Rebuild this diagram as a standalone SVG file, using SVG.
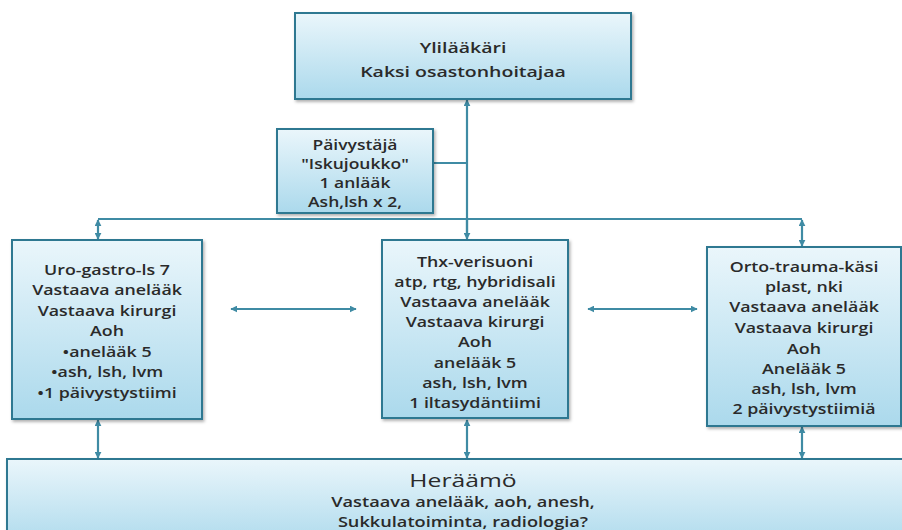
<svg xmlns="http://www.w3.org/2000/svg" width="902" height="530" viewBox="0 0 902 530">
  <defs>
    <linearGradient id="boxFill" x1="0" y1="0" x2="0" y2="1">
      <stop offset="0" stop-color="#eaf6fb"/>
      <stop offset="1" stop-color="#abd9ec"/>
    </linearGradient>
    <filter id="shadow" x="-5%" y="-5%" width="115%" height="120%">
      <feDropShadow dx="1.5" dy="2" stdDeviation="1.5" flood-color="#000" flood-opacity="0.3"/>
    </filter>
    <marker id="head" viewBox="0 0 10 10" refX="9" refY="5" markerWidth="7" markerHeight="7" markerUnits="userSpaceOnUse" orient="auto-start-reverse">
      <path d="M0,0 L10,5 L0,10 z" fill="#3f8ba4"/>
    </marker>
    <style>
      .box { fill: url(#boxFill); stroke: #2f7891; stroke-width: 2; filter: url(#shadow); }
      .wire { fill: none; stroke: #3f8ba4; stroke-width: 2.2; }
      .dbl { marker-start: url(#head); marker-end: url(#head); }
      .one { marker-end: url(#head); }
      text { font-family: "Open Sans", "Liberation Sans", sans-serif; font-weight: 600; fill: #2a2a2a; text-anchor: middle; }
      .t14 { font-size: 14px; }
      .t15 { font-size: 15px; }
      .title { font-size: 19px; font-weight: 400; }
    </style>
  </defs>

  <rect width="902" height="530" fill="#ffffff"/>

  <!-- connectors -->
  <g id="connectors">
    <!-- main spine from chief down to the middle unit -->
    <path class="wire" d="M467,238 L467,100" marker-end="url(#head)"/>
    <path class="wire one" d="M467,218 L467,239"/>
    <!-- duty officer tie-in -->
    <path class="wire" d="M433,163 L467,163"/>
    <!-- distribution bar -->
    <path class="wire" d="M98,219 L802,219"/>
    <path class="wire dbl" d="M98,220 L98,239"/>
    <path class="wire dbl" d="M802,220 L802,246"/>
    <!-- lateral links between units -->
    <path class="wire dbl" d="M231,309 L356,309"/>
    <path class="wire dbl" d="M588,309 L697,309"/>
    <!-- links down to recovery -->
    <path class="wire dbl" d="M98,420 L98,458"/>
    <path class="wire dbl" d="M467,420 L467,458"/>
    <path class="wire dbl" d="M802,427 L802,458"/>
  </g>

  <!-- chief physician -->
  <g id="chief">
    <rect class="box" x="295" y="13" width="336" height="86"/>
    <g transform="translate(463 0) scale(1.3 1)">
      <text class="t15" x="0" y="53">Ylilääkäri</text>
      <text class="t15" x="0" y="77">Kaksi osastonhoitajaa</text>
    </g>
  </g>

  <!-- duty officer -->
  <g id="duty">
    <rect class="box" x="277" y="129" width="156" height="84"/>
    <g transform="translate(355 0) scale(1.25 1)">
      <text class="t14" x="0" y="150">Päivystäjä</text>
      <text class="t14" x="0" y="169">"Iskujoukko"</text>
      <text class="t14" x="0" y="188">1 anlääk</text>
      <text class="t14" x="0" y="207">Ash,lsh x 2,</text>
    </g>
  </g>

  <!-- uro-gastro unit -->
  <g id="uro">
    <rect class="box" x="12" y="240" width="190" height="179"/>
    <g transform="translate(107 0) scale(1.27 1)">
      <text class="t14" x="0" y="275">Uro-gastro-ls 7</text>
      <text class="t14" x="0" y="295.5">Vastaava anelääk</text>
      <text class="t14" x="0" y="316">Vastaava kirurgi</text>
      <text class="t14" x="0" y="336.5">Aoh</text>
      <text class="t14" x="0" y="357">•anelääk 5</text>
      <text class="t14" x="0" y="377.5">•ash, lsh, lvm</text>
      <text class="t14" x="0" y="398">•1 päivystystiimi</text>
    </g>
  </g>

  <!-- thorax-vascular unit -->
  <g id="thx">
    <rect class="box" x="382" y="240" width="186" height="178"/>
    <g transform="translate(475 0) scale(1.27 1)">
      <text class="t14" x="0" y="267">Thx-verisuoni</text>
      <text class="t14" x="0" y="287">atp, rtg, hybridisali</text>
      <text class="t14" x="0" y="307">Vastaava anelääk</text>
      <text class="t14" x="0" y="327">Vastaava kirurgi</text>
      <text class="t14" x="0" y="347">Aoh</text>
      <text class="t14" x="0" y="368">anelääk 5</text>
      <text class="t14" x="0" y="388">ash, lsh, lvm</text>
      <text class="t14" x="0" y="408">1 iltasydäntiimi</text>
    </g>
  </g>

  <!-- ortho-trauma unit -->
  <g id="orto">
    <rect class="box" x="707" y="247" width="194" height="179"/>
    <g transform="translate(804 0) scale(1.27 1)">
      <text class="t14" x="0" y="272">Orto-trauma-käsi</text>
      <text class="t14" x="0" y="292">plast, nki</text>
      <text class="t14" x="0" y="312">Vastaava anelääk</text>
      <text class="t14" x="0" y="333">Vastaava kirurgi</text>
      <text class="t14" x="0" y="354">Aoh</text>
      <text class="t14" x="0" y="374">Anelääk 5</text>
      <text class="t14" x="0" y="394">ash, lsh, lvm</text>
      <text class="t14" x="0" y="414">2 päivystystiimiä</text>
    </g>
  </g>

  <!-- recovery room -->
  <g id="recovery">
    <rect class="box" x="7" y="459" width="905" height="90"/>
    <g transform="translate(463 0) scale(1.3 1)">
      <text class="title" x="0" y="487">Heräämö</text>
      <text class="t14" x="0" y="507" font-weight="500">Vastaava anelääk, aoh, anesh,</text>
      <text class="t14" x="0" y="527" font-weight="500">Sukkulatoiminta, radiologia?</text>
    </g>
  </g>
</svg>
